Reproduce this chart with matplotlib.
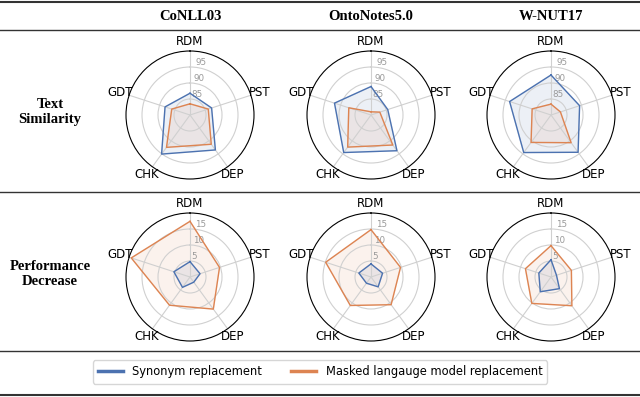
import numpy as np
import matplotlib.pyplot as plt
from matplotlib.lines import Line2D

categories = ['RDM', 'PST', 'DEP', 'CHK', 'GDT']
datasets = ['CoNLL03', 'OntoNotes5.0', 'W-NUT17']
rows = ['Text\nSimilarity', 'Performance\nDecrease']
series_names = ['Synonym replacement', 'Masked langauge model replacement']

# text similarity (%), one list per dataset
sim_syn = [[86.8, 87.1, 93.5, 95.1, 88.2],
           [88.9, 85.5, 93.8, 94.5, 92.0],
           [92.5, 89.4, 94.4, 94.5, 93.6]]
sim_mlm = [[83.5, 86.0, 91.3, 92.5, 86.0],
           [81.0, 82.9, 91.6, 92.4, 87.3],
           [83.4, 83.1, 90.7, 90.6, 86.2]]
# performance decrease
dec_syn = [[4.8, 3.3, 2.0, 4.0, 5.3],
           [4.1, 3.8, 3.8, 2.4, 4.0],
           [5.4, 1.8, 4.5, 5.7, 4.0]]
dec_mlm = [[17.4, 9.7, 12.4, 10.9, 19.3],
           [14.8, 9.7, 10.7, 11.0, 14.9],
           [9.8, 6.7, 11.1, 10.2, 8.4]]

row_data = [(sim_syn, sim_mlm), (dec_syn, dec_mlm)]
row_lim = [(80, 100), (0, 20)]
row_ticks = [[85, 90, 95], [5, 10, 15]]
colors = ['#4C72B0', '#DD8452']

W, H = 640, 397
fig = plt.figure(figsize=(W / 100, H / 100), dpi=100)

col_x = [190, 371, 551]
row_y = [115, 277]
R = 64

angles = np.linspace(0, 2 * np.pi, len(categories), endpoint=False)
closed = np.concatenate([angles, angles[:1]])

for i in range(2):
    for j in range(3):
        cx, cy = col_x[j], row_y[i]
        ax = fig.add_axes([(cx - R) / W, 1 - (cy + R) / H, 2 * R / W, 2 * R / H], polar=True)
        ax.set_theta_zero_location('N')
        ax.set_theta_direction(-1)
        for k in range(2):
            vals = row_data[i][k][j]
            v = np.concatenate([vals, vals[:1]])
            ax.plot(closed, v, color=colors[k], lw=1.0)
            ax.fill(closed, v, color=colors[k], alpha=0.1)
        ax.set_ylim(*row_lim[i])
        ax.set_yticks(row_ticks[i])
        ax.set_yticklabels([str(t) for t in row_ticks[i]], fontsize=6.3, color='#999999')
        ax.set_rlabel_position(6)
        ax.set_xticks(angles)
        ax.set_xticklabels(categories, fontsize=8.5)
        ax.tick_params(axis='x', pad=-4)
        ax.grid(color='#d0d0d0', lw=0.8)
        ax.spines['polar'].set_color('black')
        ax.spines['polar'].set_linewidth(0.8)

for j in range(3):
    fig.text(col_x[j] / W, 1 - 17 / H, datasets[j], ha='center', va='center',
             fontsize=10.5, fontweight='bold', family='Liberation Serif')
for i in range(2):
    fig.text(50 / W, 1 - (row_y[i] - 3) / H, rows[i], ha='center', va='center',
             fontsize=10.5, fontweight='bold', family='Liberation Serif', linespacing=1.2)

for y, lw in [(2, 1.5), (30, 1.0), (192, 1.0), (351, 1.0), (395, 1.5)]:
    fig.add_artist(Line2D([0, 1], [1 - y / H, 1 - y / H], color='#333333', lw=lw))

handles = [Line2D([], [], color=c, lw=2.5) for c in colors]
fig.legend(handles, series_names, loc='center', bbox_to_anchor=(0.5, 1 - 372 / H),
           ncol=2, fontsize=8.3, frameon=True, handlelength=2.2, columnspacing=2.5,
           borderpad=0.45)

fig.savefig('out.png', dpi=100)
